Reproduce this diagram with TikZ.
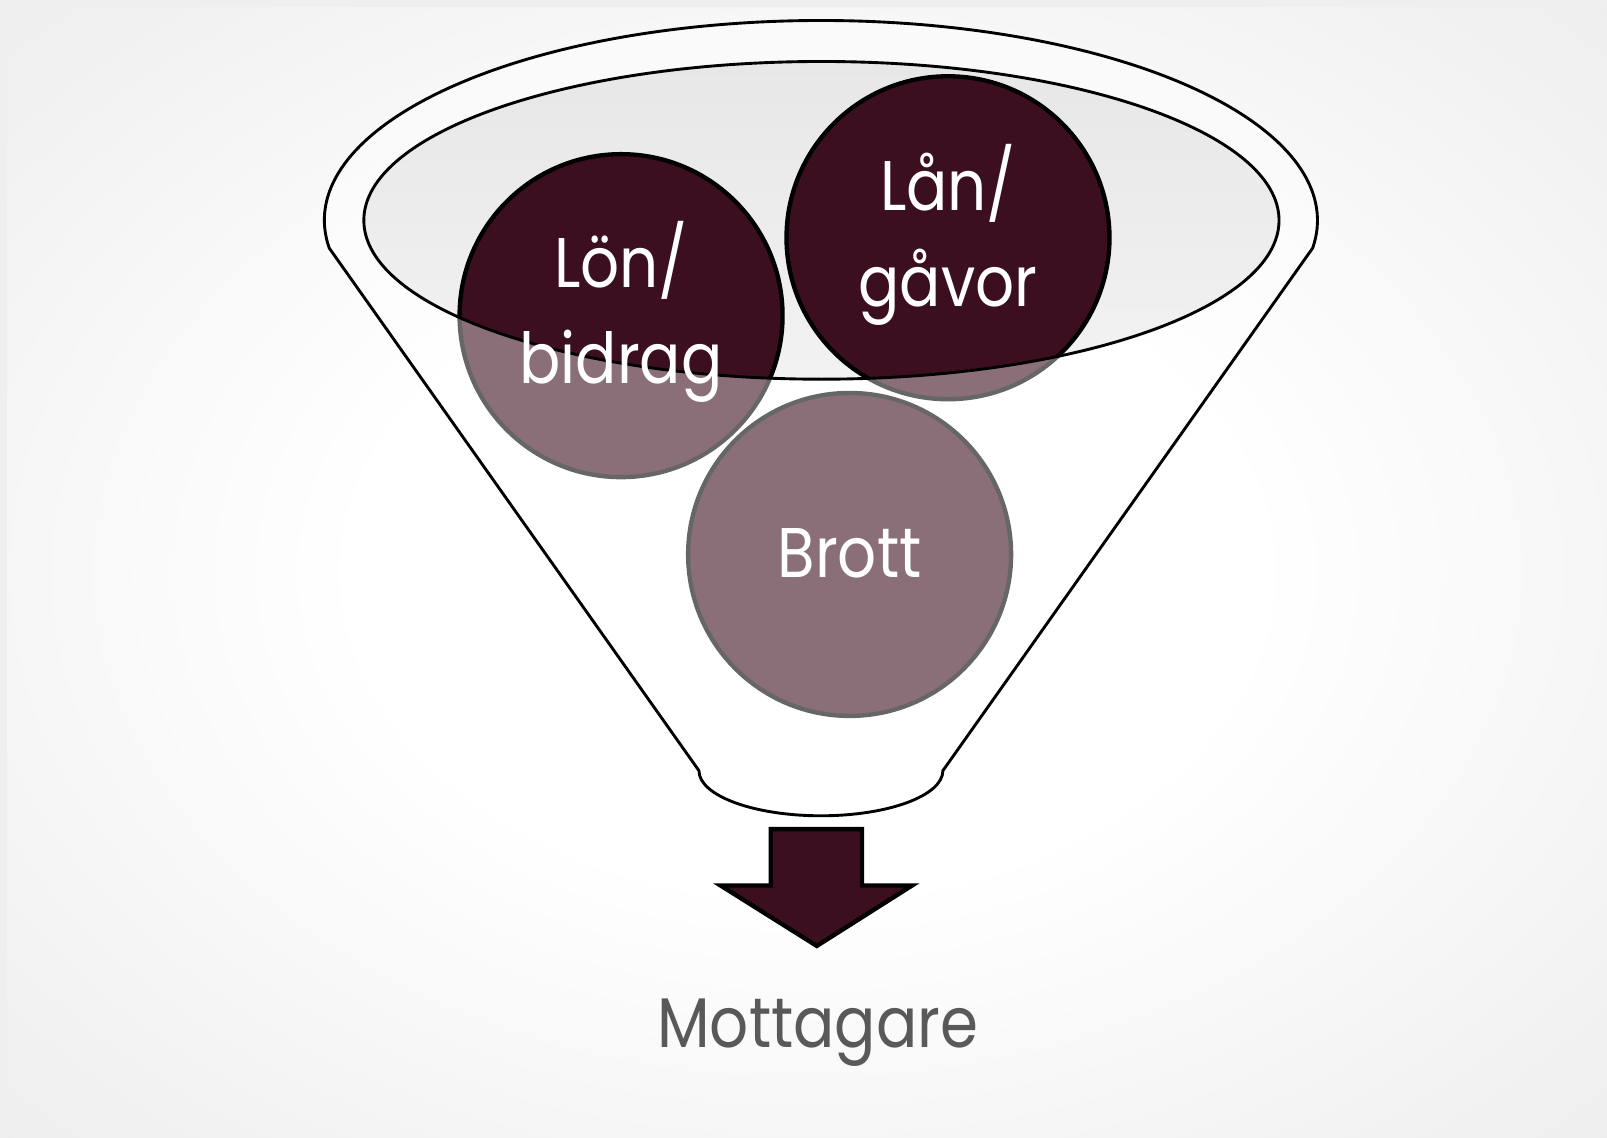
\documentclass[tikz,border=0pt]{standalone}
\usepackage{fontspec}
\setmainfont[FakeStretch=0.87]{Poppins}
\definecolor{wine}{HTML}{3C0F20}
\definecolor{labelgray}{HTML}{595959}
\definecolor{framegray}{HTML}{EFEFEF}
\definecolor{bgmid}{HTML}{E3E3E3}
\definecolor{bgcorner}{HTML}{D8D8D8}
\definecolor{openingtop}{HTML}{E7E7E7}
\definecolor{openingbottom}{HTML}{F2F2F2}
\pgfdeclareradialshading{bgshade}{\pgfpoint{0bp}{0bp}}{color(0bp)=(white); color(14bp)=(white); color(50bp)=(bgmid); color(71bp)=(bgcorner)}
\newcommand\funnelshape{(321.2,-242) arc[start angle=187.96, end angle=-7.96, x radius=484.5, y radius=195] -- (920,-752) arc[start angle=0, end angle=-180, x radius=119, y radius=44] -- cycle}
\newcommand\openingshape{(801.5,-215) ellipse [x radius=446.5, y radius=155]}
\tikzset{
  ball/.style={circle, draw=black, line width=1.2pt, fill=wine, minimum size=3.15cm, inner sep=0pt},
  balltext/.style={text=white, align=center, inner sep=0pt, font=\fontsize{19.5}{26.5}\selectfont},
  funnelline/.style={draw=black, line width=0.8pt},
  blockarrow/.style={fill=wine, draw=black, line width=1.2pt, line join=miter},
  caption/.style={text=labelgray, inner sep=0pt, anchor=base, font=\fontsize{19.5}{26.5}\selectfont}
}
\begin{document}
\begin{tikzpicture}[x=0.01cm, y=0.01cm]
\useasboundingbox (0,0) rectangle (1568,-1110);
\fill[framegray] (0,0) rectangle (1568,-1110);
\shade[shading=bgshade] (7,-7) rectangle (1568,-1110);
% funnel opening
\shade[top color=openingtop, bottom color=openingbottom] \openingshape;
% balls
\node[ball] (lon) at (606,-308) {};
\node[ball] (lan) at (925,-232) {};
\node[ball] (brott) at (829,-541) {};
% funnel body, semi transparent
\fill[white, fill opacity=0.4, even odd rule] \funnelshape \openingshape;
\draw[funnelline] \funnelshape;
\draw[funnelline] \openingshape;
% labels
\node[balltext] (lontext) at ([yshift=0.035cm]lon.center) {Lön/\\bidrag};
\node[balltext] (lantext) at ([yshift=0.03cm]lan.center) {Lån/\\gåvor};
\node[balltext] (brotttext) at ([yshift=0.015cm]brott.center) {Brott};
% arrow
\draw[blockarrow] (752,-809) -- (841,-809) -- (841,-864) -- (890,-864) -- (797,-923) -- (703,-864) -- (752,-864) -- cycle;
\node[caption] (mottagare) at (798,-1022) {Mottagare};
\end{tikzpicture}
\end{document}
